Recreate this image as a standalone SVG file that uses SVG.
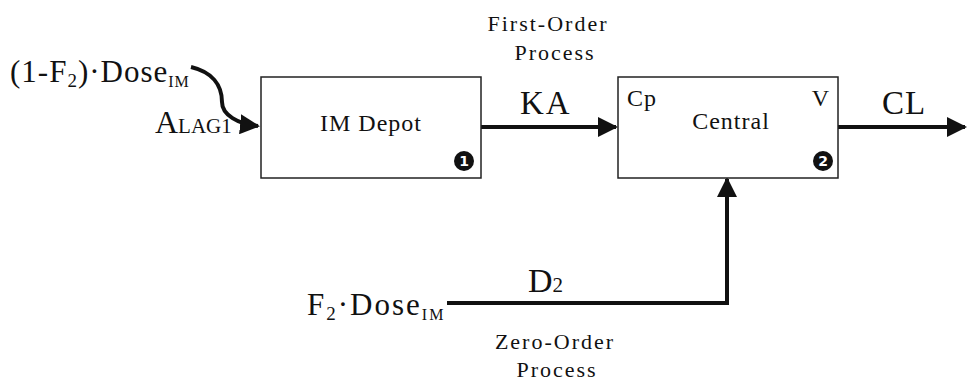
<svg xmlns="http://www.w3.org/2000/svg" width="967" height="383" viewBox="0 0 967 383">
<style>
.t{font-family:"Liberation Serif","Times New Roman",serif;fill:#111}
.box{fill:#fff;stroke:#222;stroke-width:1.5}
.ln{fill:none;stroke:#111;stroke-width:4}
.big{font-size:33px}
.mid{font-size:24px;letter-spacing:1px}
.sm{font-size:22px;letter-spacing:2px}
.num{font-family:"DejaVu Sans",sans-serif;font-size:14px;font-weight:bold;fill:#fff}
</style>
<defs>
<marker id="ah" viewBox="0 0 10 10" refX="9" refY="5" markerWidth="5" markerHeight="5" orient="auto" markerUnits="strokeWidth">
<path d="M0,0 L10,5 L0,10 z" fill="#111"/>
</marker>
</defs>
<g id="connectors">
<path class="ln" d="M191,67 C212,72 222,85 222,102 C222,115 238,124 258,126" marker-end="url(#ah)"/>
<line class="ln" x1="481" y1="127" x2="616" y2="127" marker-end="url(#ah)"/>
<line class="ln" x1="838" y1="127" x2="965" y2="127" marker-end="url(#ah)"/>
<polyline class="ln" points="447,303 727,303 727,179" marker-end="url(#ah)"/>
</g>
<g id="imdepot">
<rect class="box" x="261" y="77" width="220" height="101"/>
<text x="371" y="131" class="t mid" font-size="25" text-anchor="middle">IM Depot</text>
<circle cx="464" cy="161" r="10" fill="#111"/>
<text x="464" y="166" class="num" text-anchor="middle">1</text>
</g>
<g id="central">
<rect class="box" x="618" y="77" width="220" height="101"/>
<text x="627" y="106" class="t mid">Cp</text>
<text x="830" y="106" class="t mid" text-anchor="end">V</text>
<text x="731" y="129" class="t mid" text-anchor="middle">Central</text>
<circle cx="823" cy="161" r="10" fill="#111"/>
<text x="823" y="166" class="num" text-anchor="middle">2</text>
</g>
<g id="labels">
<text x="10" y="82" class="t" font-size="31" letter-spacing="1">(1-F<tspan font-size="19" dy="5">2</tspan><tspan dy="-5">)·Dose</tspan><tspan font-size="16" dy="5">IM</tspan></text>
<text x="155" y="133" class="t" font-size="32">A<tspan font-size="21" dx="0">LAG1</tspan></text>
<text x="548" y="31" class="t sm" text-anchor="middle">First-Order</text>
<text x="555" y="60" class="t sm" text-anchor="middle" letter-spacing="3">Process</text>
<text x="520" y="114" class="t big" letter-spacing="2">KA</text>
<text x="882" y="114" class="t big" letter-spacing="1">CL</text>
<text x="528" y="292" class="t" font-size="34">D<tspan font-size="21">2</tspan></text>
<text x="307" y="315" class="t" font-size="31" letter-spacing="2">F<tspan font-size="19" dy="5">2</tspan><tspan dy="-5">·Dose</tspan><tspan font-size="16" dy="5">IM</tspan></text>
<text x="555" y="349" class="t sm" text-anchor="middle" letter-spacing="2.5">Zero-Order</text>
<text x="557" y="377" class="t sm" text-anchor="middle" letter-spacing="4">Process</text>
</g>
</svg>
